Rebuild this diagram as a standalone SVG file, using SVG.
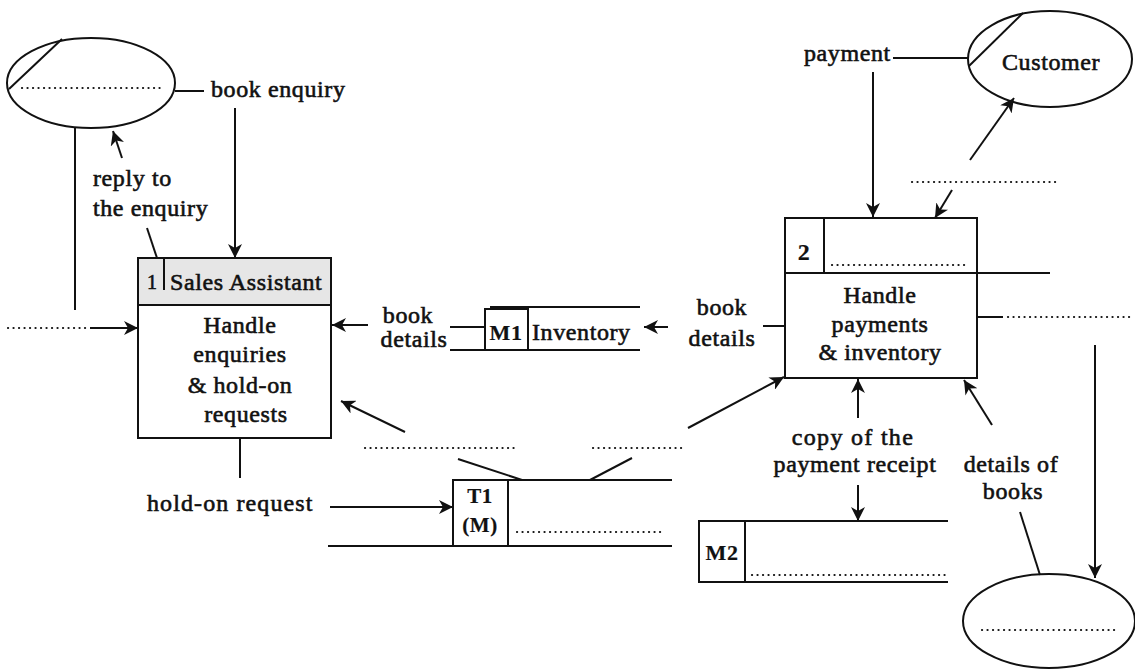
<svg xmlns="http://www.w3.org/2000/svg" width="1135" height="671" viewBox="0 0 1135 671">
<style>
.t{font-family:"Liberation Serif","Times New Roman",serif;font-size:24px;fill:#111;stroke:#111;stroke-width:0.6;letter-spacing:0.6px}
.b{font-weight:bold;stroke-width:0.2}
.m{text-anchor:middle}
.ln{stroke:#111;stroke-width:2;fill:none}
.dot{stroke:#111;stroke-width:2.2;fill:none;stroke-dasharray:0.1 5.4;stroke-linecap:round}
.a{marker-end:url(#ah)}
</style>
<defs>
<marker id="ah" markerUnits="userSpaceOnUse" markerWidth="16" markerHeight="14" refX="14" refY="7" orient="auto">
<path d="M0,0 L14,7 L0,14 L4,7 z" fill="#111"/>
</marker>
</defs>
<rect width="1135" height="671" fill="#fff"/>

<g id="entity-left">
<ellipse cx="91" cy="83" rx="84" ry="45" class="ln"/>
<line x1="9" y1="89" x2="62" y2="39" class="ln"/>
<line x1="22" y1="88" x2="160" y2="88" class="dot"/>
</g>

<g id="entity-customer">
<ellipse cx="1050" cy="59" rx="82" ry="48" class="ln"/>
<line x1="969" y1="66" x2="1023" y2="13" class="ln"/>
<text x="1002" y="70" class="t">Customer</text>
</g>

<g id="entity-bottom">
<ellipse cx="1049" cy="621" rx="86" ry="47" class="ln"/>
<line x1="982" y1="630" x2="1117" y2="630" class="dot"/>
</g>

<g id="process-1">
<rect x="138" y="258" width="193" height="47" fill="#e6e6e6"/>
<rect x="138" y="258" width="193" height="180" class="ln"/>
<line x1="138" y1="305" x2="331" y2="305" class="ln"/>
<line x1="164" y1="259" x2="164" y2="290" class="ln"/>
<text x="147" y="289" class="t" style="font-size:20px">1</text>
<text x="170" y="290" class="t">Sales Assistant</text>
<text x="240" y="333" class="t m">Handle</text>
<text x="240" y="362" class="t m">enquiries</text>
<text x="240" y="393" class="t m">&amp; hold-on</text>
<text x="246" y="422" class="t m">requests</text>
</g>

<g id="process-2">
<rect x="785" y="218" width="192" height="160" class="ln"/>
<line x1="785" y1="273" x2="1050" y2="273" class="ln"/>
<line x1="824" y1="218" x2="824" y2="273" class="ln"/>
<line x1="832" y1="265" x2="968" y2="265" class="dot"/>
<text x="804" y="260" class="t b m">2</text>
<text x="880" y="303" class="t m">Handle</text>
<text x="880" y="332" class="t m">payments</text>
<text x="880" y="360" class="t m">&amp; inventory</text>
</g>

<g id="store-M1">
<line x1="490" y1="307" x2="640" y2="307" class="ln"/>
<line x1="450" y1="350" x2="640" y2="350" class="ln"/>
<rect x="485" y="309" width="43" height="41" class="ln"/>
<text x="506" y="340" class="t b m" style="font-size:22px">M1</text>
<text x="532" y="340" class="t">Inventory</text>
</g>

<g id="store-T1">
<line x1="508" y1="480" x2="672" y2="480" class="ln"/>
<line x1="328" y1="546" x2="672" y2="546" class="ln"/>
<rect x="453" y="480" width="55" height="66" class="ln"/>
<line x1="517" y1="532" x2="665" y2="532" class="dot"/>
<text x="480" y="503" class="t b m" style="font-size:21px">T1</text>
<text x="480" y="532" class="t b m" style="font-size:21px">(M)</text>
</g>

<g id="store-M2">
<line x1="745" y1="521" x2="948" y2="521" class="ln"/>
<line x1="699" y1="582" x2="948" y2="582" class="ln"/>
<rect x="699" y="521" width="46" height="61" class="ln"/>
<line x1="752" y1="575" x2="948" y2="575" class="dot"/>
<text x="722" y="560" class="t b m" style="font-size:22px">M2</text>
</g>

<g id="connectors">
<line x1="175" y1="91" x2="204" y2="91" class="ln"/>
<text x="211" y="97" class="t">book enquiry</text>
<line x1="235" y1="108" x2="235" y2="258" class="ln a"/>
<line x1="122" y1="158" x2="113" y2="131" class="ln a"/>
<line x1="147" y1="228" x2="157" y2="258" class="ln"/>
<text x="93" y="186" class="t">reply to</text>
<text x="93" y="216" class="t">the enquiry</text>
<line x1="75" y1="128" x2="75" y2="310" class="ln"/>
<line x1="8" y1="328" x2="86" y2="328" class="dot"/>
<line x1="90" y1="328" x2="138" y2="328" class="ln a"/>

<line x1="368" y1="325" x2="332" y2="325" class="ln a"/>
<text x="408" y="323" class="t m">book</text>
<text x="414" y="347" class="t m">details</text>
<line x1="450" y1="327" x2="485" y2="327" class="ln"/>
<line x1="668" y1="327" x2="644" y2="327" class="ln a"/>
<text x="722" y="315" class="t m">book</text>
<text x="722" y="346" class="t m">details</text>
<line x1="763" y1="326" x2="785" y2="326" class="ln"/>

<text x="804" y="61" class="t">payment</text>
<line x1="893" y1="58" x2="969" y2="58" class="ln"/>
<line x1="873" y1="72" x2="873" y2="217" class="ln a"/>
<line x1="970" y1="160" x2="1014" y2="98" class="ln a"/>
<line x1="912" y1="182" x2="1060" y2="182" class="dot"/>
<line x1="952" y1="190" x2="935" y2="218" class="ln a"/>

<line x1="977" y1="317" x2="1003" y2="317" class="ln"/>
<line x1="1008" y1="317" x2="1133" y2="317" class="dot"/>
<line x1="1095" y1="345" x2="1095" y2="578" class="ln a"/>

<line x1="992" y1="425" x2="964" y2="380" class="ln a"/>
<text x="1011" y="472" class="t m">details of</text>
<text x="1013" y="499" class="t m">books</text>
<line x1="1020" y1="512" x2="1040" y2="575" class="ln"/>

<line x1="858" y1="418" x2="858" y2="379" class="ln a"/>
<text x="853" y="445" class="t m" style="letter-spacing:1.3px">copy of the</text>
<text x="855" y="472" class="t m">payment receipt</text>
<line x1="858" y1="485" x2="858" y2="521" class="ln a"/>

<line x1="688" y1="428" x2="784" y2="377" class="ln a"/>
<line x1="405" y1="432" x2="341" y2="401" class="ln a"/>
<line x1="365" y1="448" x2="515" y2="448" class="dot"/>
<line x1="593" y1="448" x2="686" y2="448" class="dot"/>
<line x1="458" y1="459" x2="522" y2="480" class="ln"/>
<line x1="632" y1="458" x2="590" y2="480" class="ln"/>

<line x1="240" y1="438" x2="240" y2="478" class="ln"/>
<text x="147" y="511" class="t" style="letter-spacing:1.1px">hold-on request</text>
<line x1="330" y1="507" x2="453" y2="507" class="ln a"/>
</g>
</svg>
